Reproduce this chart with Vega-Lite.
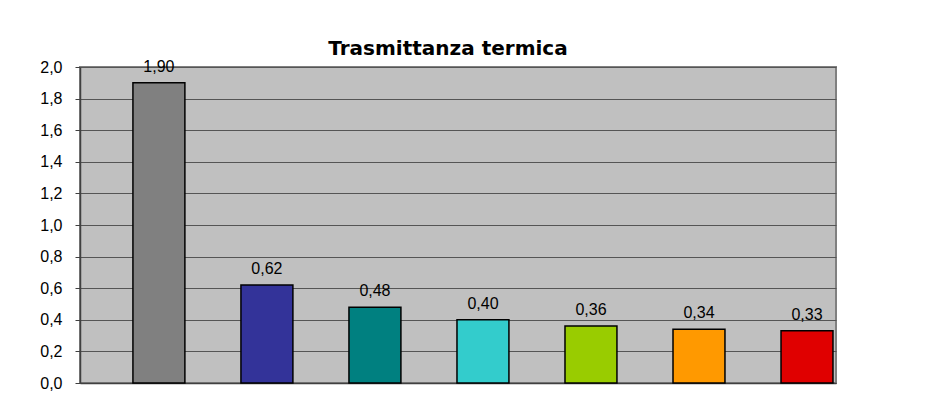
{
  "$schema": "https://vega.github.io/schema/vega-lite/v6.json",
  "width": 756,
  "height": 316,
  "autosize": {"type": "none"},
  "padding": {"left": 80, "top": 67, "right": 103, "bottom": 34},
  "background": "white",
  "config": {
    "locale": {"number": {"decimal": ",", "thousands": ".", "grouping": [3], "currency": ["", " €"]}},
    "view": {"fill": "#C0C0C0", "stroke": "#808080", "strokeWidth": 2}
  },
  "title": {"text": "Trasmittanza termica", "font": "DejaVu Sans", "fontSize": 20, "fontWeight": "bold", "color": "black", "dx": -10, "offset": 0},
  "data": {"values": [
    {"id": "1", "value": 1.90},
    {"id": "2", "value": 0.62},
    {"id": "3", "value": 0.48},
    {"id": "4", "value": 0.40},
    {"id": "5", "value": 0.36},
    {"id": "6", "value": 0.34},
    {"id": "7", "value": 0.33}
  ]},
  "encoding": {
    "x": {"field": "id", "type": "ordinal", "sort": null,
      "scale": {"paddingInner": 0.519, "paddingOuter": 0.259, "align": 0.946},
      "axis": {"title": null, "labels": false, "ticks": false, "domainColor": "#404040", "domainWidth": 1.5}},
    "y": {"field": "value", "type": "quantitative",
      "scale": {"domain": [0, 2], "nice": false},
      "axis": {"title": null, "values": [0, 0.2, 0.4, 0.6, 0.8, 1.0, 1.2, 1.4, 1.6, 1.8, 2.0], "format": ".1f",
        "labelFont": "Liberation Sans", "labelFontSize": 16, "labelColor": "black", "labelPadding": 13,
        "tickSize": 5, "tickColor": "#404040", "domainColor": "#404040", "domainWidth": 1.5,
        "grid": true, "gridColor": "#555555", "gridWidth": 1}}
  },
  "layer": [
    {"mark": {"type": "bar", "stroke": "black", "strokeWidth": 1.5},
     "encoding": {"color": {"field": "id", "type": "nominal", "legend": null,
       "scale": {"domain": ["1","2","3","4","5","6","7"], "range": ["#808080", "#333399", "#008080", "#33CCCC", "#99CC00", "#FF9900", "#E00000"]}}}},
    {"mark": {"type": "text", "font": "Liberation Sans", "fontSize": 16, "color": "black", "baseline": "alphabetic", "dy": -11},
     "encoding": {"text": {"field": "value", "type": "quantitative", "format": ".2f"}}}
  ]
}
